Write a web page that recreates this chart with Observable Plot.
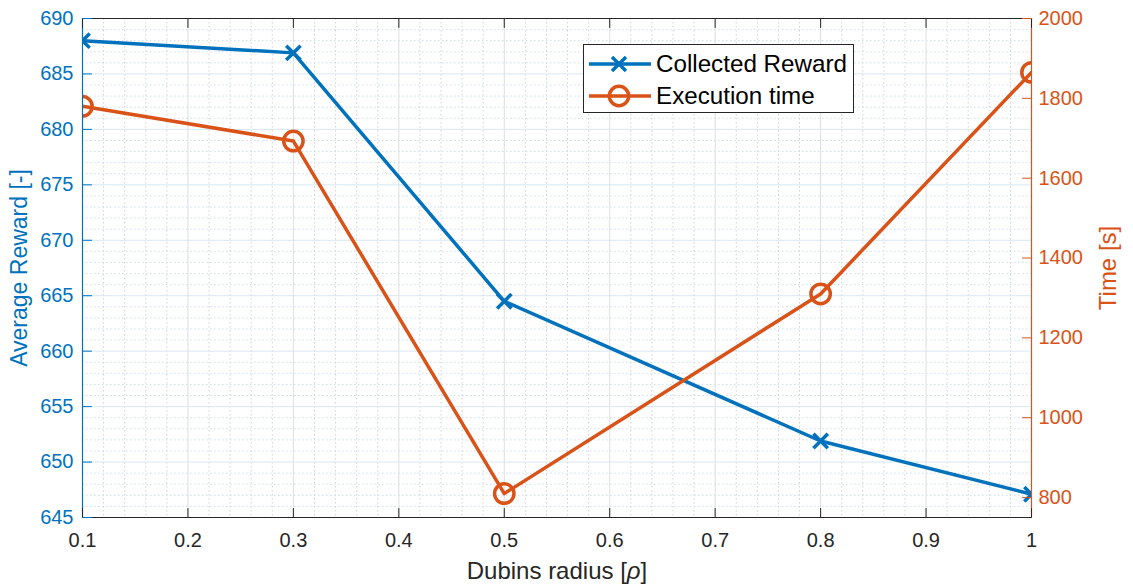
<!DOCTYPE html>
<html><head><meta charset="utf-8">
<script src="https://cdn.jsdelivr.net/npm/d3@7"></script>
<script src="https://cdn.jsdelivr.net/npm/@observablehq/plot@0.6"></script>
<style>
html,body{margin:0;padding:0;background:#fff;}
#chart{position:relative;width:1133px;height:587px;}
#legend{position:absolute;left:583px;top:44px;width:271px;height:69px;border:1px solid #262626;background:#fff;box-sizing:border-box;font:24.2px 'Liberation Sans',Arial,Helvetica,sans-serif;color:#000;}
#legend .row{position:absolute;left:0;height:34px;display:flex;align-items:center;}
#legend svg{display:block;margin-left:5px;}
#legend span{margin-left:5px;white-space:nowrap;}
</style></head><body>
<div id="chart"><div id="legend"></div></div>
<script>
// ---- data ----
const radius = [0.1, 0.3, 0.5, 0.8, 1.0];
const reward = [688.0, 686.9, 664.5, 651.9, 647.1];
const execTime = [1780, 1693, 810, 1310, 1865];
const seriesNames = ["Collected Reward", "Execution time"];
const seriesColors = ["#0072BD", "#D95319"];
const xTicks = [0.1, 0.2, 0.3, 0.4, 0.5, 0.6, 0.7, 0.8, 0.9, 1.0];
const xTickLabels = ["0.1", "0.2", "0.3", "0.4", "0.5", "0.6", "0.7", "0.8", "0.9", "1"];
const rewardTicks = [645, 650, 655, 660, 665, 670, 675, 680, 685, 690];
const rewardTickLabels = ["645", "650", "655", "660", "665", "670", "675", "680", "685", "690"];
const timeTicks = [800, 1000, 1200, 1400, 1600, 1800, 2000];
const timeTickLabels = ["800", "1000", "1200", "1400", "1600", "1800", "2000"];
const xDomain = [0.1, 1.0];
const rewardDomain = [645, 690];
const timeDomain = [750, 2000];
const xLabel = "Dubins radius [ρ]";
const yLabelLeft = "Average Reward [-]";
const yLabelRight = "Time [s]";

// ---- derived ----
const blue = seriesColors[0], orange = seriesColors[1], dark = "#262626";
const t2r = d3.scaleLinear(timeDomain, rewardDomain);
const rewardRows = radius.map((x, i) => ({x, y: reward[i]}));
const timeRows = radius.map((x, i) => ({x, y: t2r(execTime[i])}));
const minorX = d3.range(1, 51).map(k => xDomain[0] + k * 0.02).filter(v => v < xDomain[1] - 1e-9 && Math.round(v * 100) % 10 !== 0);
const minorY = d3.range(rewardDomain[0] + 1, rewardDomain[1]).filter(v => v % 5 !== 0);
const timeTickPos = timeTicks.map(t2r);
const labelFor = (pos, labels) => d => labels[pos.findIndex(p => Math.abs(p - d) < 1e-6)];

const tickShape = {draw(ctx, l) { ctx.moveTo(0, 0); ctx.lineTo(0, -l); }};
const tick = (data, o) => Plot.vector(data, {length: 9, anchor: "start", shape: tickShape, strokeWidth: 1, ...o});

const chart = Plot.plot({
  width: 1133, height: 587,
  marginLeft: 82, marginRight: 102, marginTop: 18, marginBottom: 70,
  x: {domain: xDomain},
  y: {domain: rewardDomain},
  style: {fontFamily: "'Liberation Sans', Arial, Helvetica, sans-serif", fontSize: "20px", background: "#fff", overflow: "visible"},
  marks: [
    // minor grid
    Plot.ruleX(minorX, {x: d => d, stroke: "#d2d2d2", strokeDasharray: "1.5,2.5", strokeWidth: 1}),
    Plot.ruleY(minorY, {y: d => d, stroke: "#c8def0", strokeDasharray: "1.5,2.5", strokeWidth: 1}),
    // major grid
    Plot.ruleX(xTicks, {x: d => d, stroke: "#dedede", strokeWidth: 1}),
    Plot.ruleY(rewardTicks, {y: d => d, stroke: "#d6e7f3", strokeWidth: 1}),
    // series
    Plot.line(rewardRows, {x: "x", y: "y", stroke: blue, strokeWidth: 3.5}),
    Plot.dot(rewardRows, {x: "x", y: "y", symbol: "times", r: 6.6, stroke: blue, strokeWidth: 3.5}),
    Plot.line(timeRows, {x: "x", y: "y", stroke: orange, strokeWidth: 3.5}),
    Plot.dot(timeRows, {x: "x", y: "y", r: 9.7, stroke: orange, fill: "none", strokeWidth: 3.5}),
    // frame
    Plot.ruleY([rewardDomain[0]], {y: d => d, stroke: dark, strokeWidth: 1.2}),
    Plot.ruleY([rewardDomain[1]], {y: d => d, stroke: dark, strokeWidth: 1.2}),
    Plot.ruleX([xDomain[0]], {x: d => d, stroke: blue, strokeWidth: 1.2}),
    Plot.ruleX([xDomain[1]], {x: d => d, stroke: orange, strokeWidth: 1.2}),
    // inward ticks
    tick(xTicks, {x: d => d, y: () => rewardDomain[0], rotate: 0, stroke: dark}),
    tick(xTicks, {x: d => d, y: () => rewardDomain[1], rotate: 180, stroke: dark}),
    tick(rewardTicks, {x: () => xDomain[0], y: d => d, rotate: 90, stroke: blue}),
    tick(timeTickPos, {x: () => xDomain[1], y: d => d, rotate: -90, stroke: orange}),
    // tick labels
    Plot.axisX({ticks: xTicks, tickFormat: labelFor(xTicks, xTickLabels), tickSize: 0, tickPadding: 15.5, label: null, color: dark, fontSize: 20}),
    Plot.axisY({anchor: "left", ticks: rewardTicks, tickFormat: labelFor(rewardTicks, rewardTickLabels), tickSize: 0, tickPadding: 9, label: null, color: blue, fontSize: 20}),
    Plot.axisY({anchor: "right", ticks: timeTickPos, tickFormat: labelFor(timeTickPos, timeTickLabels), tickSize: 0, tickPadding: 7, label: null, color: orange, fontSize: 20}),
    // axis titles
    Plot.text([xLabel], {text: d => d, frameAnchor: "bottom", dy: 54, textAnchor: "middle", lineAnchor: "middle", fill: dark, fontSize: 24}),
    Plot.text([yLabelLeft], {text: d => d, frameAnchor: "left", dx: -63, rotate: -90, textAnchor: "middle", lineAnchor: "middle", fill: blue, fontSize: 23}),
    Plot.text([yLabelRight], {text: d => d, frameAnchor: "right", dx: 77, rotate: -90, textAnchor: "middle", lineAnchor: "middle", fill: orange, fontSize: 24})
  ]
});

// clip series to the plotting frame
{
  const [x0, x1] = chart.scale("x").range;
  const [ya, yb] = chart.scale("y").range;
  const ns = "http://www.w3.org/2000/svg";
  const defs = document.createElementNS(ns, "defs");
  const cp = document.createElementNS(ns, "clipPath");
  cp.setAttribute("id", "frameclip");
  const rect = document.createElementNS(ns, "rect");
  rect.setAttribute("x", Math.min(x0, x1));
  rect.setAttribute("y", Math.min(ya, yb));
  rect.setAttribute("width", Math.abs(x1 - x0));
  rect.setAttribute("height", Math.abs(yb - ya));
  cp.appendChild(rect); defs.appendChild(cp);
  chart.insertBefore(defs, chart.firstChild);
  chart.querySelectorAll('g[aria-label="line"], g[aria-label="dot"]').forEach(g => g.setAttribute("clip-path", "url(#frameclip)"));
}

// italic rho
chart.querySelectorAll("text").forEach(t => {
  if (t.textContent === xLabel) {
    const i = xLabel.indexOf("ρ");
    t.innerHTML = xLabel.slice(0, i) + '<tspan font-style="italic">ρ</tspan>' + xLabel.slice(i + 1);
  }
});

const host = document.getElementById("chart");
host.insertBefore(chart, host.firstChild);

// legend
const legend = document.getElementById("legend");
seriesNames.forEach((name, i) => {
  const row = document.createElement("div");
  row.className = "row";
  row.style.top = (i === 0 ? 2 : 34) + "px";
  const marker = i === 0
    ? `<path d="M23,9 L37,23 M23,23 L37,9" stroke="${seriesColors[i]}" stroke-width="3.5" fill="none"/>`
    : `<circle cx="30" cy="16" r="9.7" stroke="${seriesColors[i]}" stroke-width="3.5" fill="none"/>`;
  row.innerHTML = `<svg width="62" height="32"><line x1="0" x2="62" y1="16" y2="16" stroke="${seriesColors[i]}" stroke-width="3.5"/>${marker}</svg><span>${name}</span>`;
  legend.appendChild(row);
});
</script>
</body></html>
